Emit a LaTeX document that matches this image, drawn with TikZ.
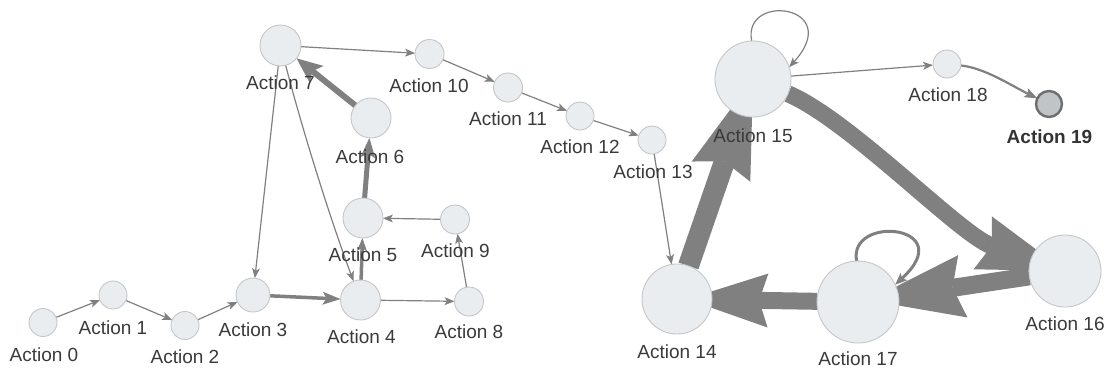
\documentclass[tikz,border=0pt]{standalone}
\usepackage{fontspec}
\setmainfont{Liberation Sans}
\usetikzlibrary{arrows.meta}

\definecolor{nodefill}{HTML}{E9EDEF}
\definecolor{nodeline}{HTML}{C3C7C9}
\definecolor{edgecol}{HTML}{808080}
\definecolor{labelcol}{HTML}{3A3A3A}
\definecolor{endfill}{HTML}{C0C4C7}
\definecolor{endline}{HTML}{6E6E6E}

\newcommand\labelfont{\fontsize{19}{22}\selectfont}

\pgfdeclarelayer{edges}
\pgfsetlayers{edges,main}

\tikzset{
  act/.style={circle, draw=nodeline, fill=nodefill, line width=0.9pt,
              inner sep=0pt, outer sep=0pt, minimum size=#1},
  endact/.style={act=#1, fill=endfill, draw=endline, line width=2.4pt},
  lbl/.style={anchor=base, font=\labelfont, text=labelcol, inner sep=0pt},
  flow/.style={draw=edgecol, line width=1.2pt,
               -{Stealth[length=10pt, width=8pt, inset=2.5pt, line width=0pt]}},
  midflow/.style args={#1/#2/#3}{draw=edgecol, line width=#1,
               -{Stealth[length=#2, width=#3, inset=0.22*#2, line width=0pt]}},
  % heavy transitions: the tip runs on under the target circle
  bigflow/.style args={#1/#2/#3/#4}{draw=edgecol, line width=#1,
               shorten >=-#4,
               -{Stealth[length=#2, width=#3, inset=0.11*#2, line width=0pt]}},
}

\begin{document}
\begin{tikzpicture}[x=1pt, y=-1pt]
\useasboundingbox (0,0) rectangle (1104,370);

% states
\node[act=28pt] (a0) at (43,322.5) {};
\node[act=28pt] (a1) at (113,295) {};
\node[act=28pt] (a2) at (185,325.5) {};
\node[act=34pt] (a3) at (253,295) {};
\node[act=40pt] (a4) at (360.5,300) {};
\node[act=40pt] (a5) at (363,218) {};
\node[act=40pt] (a6) at (371,118) {};
\node[act=41pt] (a7) at (280.5,45.5) {};
\node[act=29pt] (a8) at (469,301.5) {};
\node[act=29pt] (a9) at (455,219.5) {};
\node[act=29pt] (a10) at (429.5,54) {};
\node[act=29pt] (a11) at (508,87.5) {};
\node[act=28pt] (a12) at (580,116) {};
\node[act=28pt] (a13) at (652,140) {};
\node[act=70pt] (a14) at (677,299) {};
\node[act=76pt] (a15) at (753,79) {};
\node[act=72pt] (a16) at (1065,271) {};
\node[act=82pt] (a17) at (858,302) {};
\node[act=28pt] (a18) at (947,64) {};
\node[endact=26pt] (a19) at (1049,104) {};

% state names
\node[lbl] (t0) at (44,361) {Action 0};
\node[lbl] (t1) at (113,334) {Action 1};
\node[lbl] (t2) at (185,363) {Action 2};
\node[lbl] (t3) at (253,336) {Action 3};
\node[lbl] (t4) at (361.5,343) {Action 4};
\node[lbl] (t5) at (363,261) {Action 5};
\node[lbl] (t6) at (370,163) {Action 6};
\node[lbl] (t7) at (280.5,89) {Action 7};
\node[lbl] (t8) at (469,338) {Action 8};
\node[lbl] (t9) at (455.5,257) {Action 9};
\node[lbl] (t10) at (429,92) {Action 10};
\node[lbl] (t11) at (508,125) {Action 11};
\node[lbl] (t12) at (580,153) {Action 12};
\node[lbl] (t13) at (653,178) {Action 13};
\node[lbl] (t14) at (677,358) {Action 14};
\node[lbl] (t15) at (753,142) {Action 15};
\node[lbl] (t16) at (1065,330) {Action 16};
\node[lbl] (t17) at (858,365) {Action 17};
\node[lbl] (t18) at (948,101) {Action 18};
\node[lbl, font=\labelfont\bfseries, text=black!80] (t19) at (1049.5,143) {Action 19};

% transitions
\begin{pgfonlayer}{edges}
  \draw[flow] (a0) -- (a1);
  \draw[flow] (a1) -- (a2);
  \draw[flow] (a2) -- (a3);
  \draw[midflow=3.5pt/18pt/13pt] (a3) -- (a4);
  \draw[midflow=3.5pt/13pt/10pt] (a4) -- (a5);
  \draw[midflow=5pt/20pt/15pt] (a5) -- (a6);
  \draw[midflow=6pt/26pt/22pt] (a6) -- (a7);
  \draw[flow] (a7) -- (a3);
  \draw[flow] (a7) .. controls (303,132) and (330,218) .. (a4);
  \draw[flow] (a7) -- (a10);
  \draw[flow] (a10) -- (a11);
  \draw[flow] (a11) -- (a12);
  \draw[flow] (a12) -- (a13);
  \draw[flow] (a13) -- (a14);
  \draw[flow] (a4) -- (a8);
  \draw[flow] (a8) -- (a9);
  \draw[flow] (a9) -- (a5);

  \draw[bigflow=21pt/98pt/62pt/38pt] (a14) -- (a15);
  \draw[bigflow=17pt/87pt/56pt/36pt] (a15) .. controls (850,120) and (960,235) .. (a16);
  \draw[bigflow=18pt/95pt/63pt/30pt] (a16) -- (a17);
  \draw[bigflow=17pt/81pt/54pt/25pt] (a17) -- (a14);

  \draw[flow] (a15.92) .. controls (742,-8) and (845,5) .. (a15.18);
  \draw[midflow=3pt/12pt/10pt] (a17.92) .. controls (848,214) and (960,225) .. (a17.25);
  \draw[flow] (a15) -- (a18);
  \draw[midflow=2.2pt/13pt/10pt] (a18) .. controls (985,68) and (1012,86) .. (a19);
\end{pgfonlayer}
\end{tikzpicture}
\end{document}
